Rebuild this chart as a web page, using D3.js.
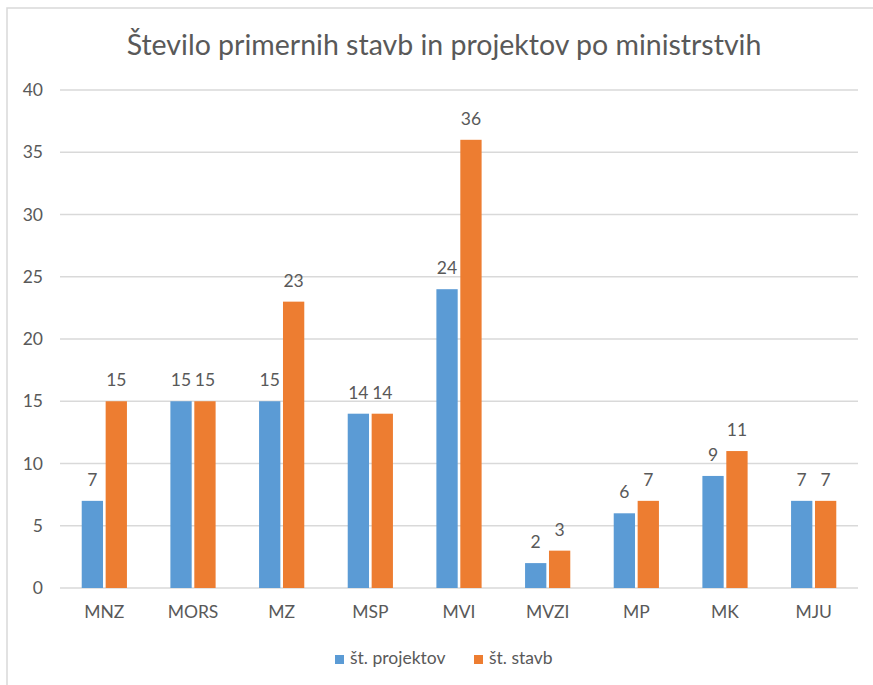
<!DOCTYPE html>
<html>
<head>
<meta charset="utf-8">
<script src="https://cdn.jsdelivr.net/npm/d3@7"></script>
<style>
  body { margin: 0; background: #fff; }
  svg text { font-family: Lato, "Noto Sans", sans-serif; fill: #595959; }
</style>
</head>
<body>
<svg id="chart" width="873" height="685"></svg>
<script>
var categories = ["MNZ", "MORS", "MZ", "MSP", "MVI", "MVZI", "MP", "MK", "MJU"];
var projekti = [7, 15, 15, 14, 24, 2, 6, 9, 7];
var stavbe = [15, 15, 23, 14, 36, 3, 7, 11, 7];
var seriesNames = ["št. projektov", "št. stavb"];
var yTicks = [0, 5, 10, 15, 20, 25, 30, 35, 40];

var colors = ["#5B9BD5", "#ED7D31"];

var svg = d3.select("#chart");

// chart frame (cut off at the right and bottom like the screenshot)
svg.append("rect")
    .attr("x", 7).attr("y", 8)
    .attr("width", 900).attr("height", 700)
    .attr("fill", "#fff")
    .attr("stroke", "#D9D9D9")
    .attr("stroke-width", 1.5);

svg.append("text")
    .attr("x", 444).attr("y", 55)
    .attr("text-anchor", "middle")
    .style("font-size", "28.5px")
    .text("Število primernih stavb in projektov po ministrstvih");

var margin = {left: 60, right: 858, top: 90, bottom: 588};

var y = d3.scaleLinear().domain([0, 40]).range([margin.bottom, margin.top]);
var x0 = d3.scaleBand().domain(categories).range([margin.left, margin.right]);
var x1 = d3.scaleBand().domain([0, 1]).range([x0.bandwidth() * 0.245, x0.bandwidth() * 0.755]).paddingInner(0.11);

// gridlines
svg.append("g").selectAll("line")
    .data(yTicks)
    .enter().append("line")
    .attr("x1", margin.left).attr("x2", margin.right)
    .attr("y1", function(d){ return y(d); })
    .attr("y2", function(d){ return y(d); })
    .attr("stroke", "#D9D9D9")
    .attr("stroke-width", 1.3);

var yAxis = svg.append("g")
    .attr("transform", "translate(" + margin.left + ",0)")
    .call(d3.axisLeft(y).tickValues(yTicks).tickSize(0).tickPadding(17));
yAxis.select(".domain").remove();
yAxis.selectAll("text").style("font-size", "17.5px").attr("fill", "#595959");

var xAxis = svg.append("g")
    .attr("transform", "translate(0," + margin.bottom + ")")
    .call(d3.axisBottom(x0).tickSize(0).tickPadding(18));
xAxis.select(".domain").remove();
xAxis.selectAll("text").style("font-size", "17.5px").attr("fill", "#595959");

var data = categories.map(function(c, i){
    return {cat: c, vals: [projekti[i], stavbe[i]]};
});

var groups = svg.append("g").selectAll("g")
    .data(data)
    .enter().append("g")
    .attr("transform", function(d){ return "translate(" + x0(d.cat) + ",0)"; });

groups.selectAll("rect")
    .data(function(d){ return d.vals; })
    .enter().append("rect")
    .attr("x", function(d, i){ return x1(i); })
    .attr("width", x1.bandwidth())
    .attr("y", function(d){ return y(d); })
    .attr("height", function(d){ return y(0) - y(d); })
    .attr("fill", function(d, i){ return colors[i]; });

groups.selectAll("text.lbl")
    .data(function(d){ return d.vals; })
    .enter().append("text")
    .attr("class", "lbl")
    .attr("x", function(d, i){ return x1(i) + x1.bandwidth() / 2; })
    .attr("y", function(d){ return y(d) - 15; })
    .attr("text-anchor", "middle")
    .style("font-size", "17.5px")
    .text(function(d){ return d; });

// legend
var legendPos = [335, 474];
var legend = svg.append("g").selectAll("g")
    .data(seriesNames)
    .enter().append("g")
    .attr("transform", function(d, i){ return "translate(" + legendPos[i] + ",655)"; });
legend.append("rect")
    .attr("width", 9).attr("height", 9)
    .attr("fill", function(d, i){ return colors[i]; });
legend.append("text")
    .attr("x", 15).attr("y", 9)
    .style("font-size", "17.5px")
    .text(function(d){ return d; });
</script>
</body>
</html>
